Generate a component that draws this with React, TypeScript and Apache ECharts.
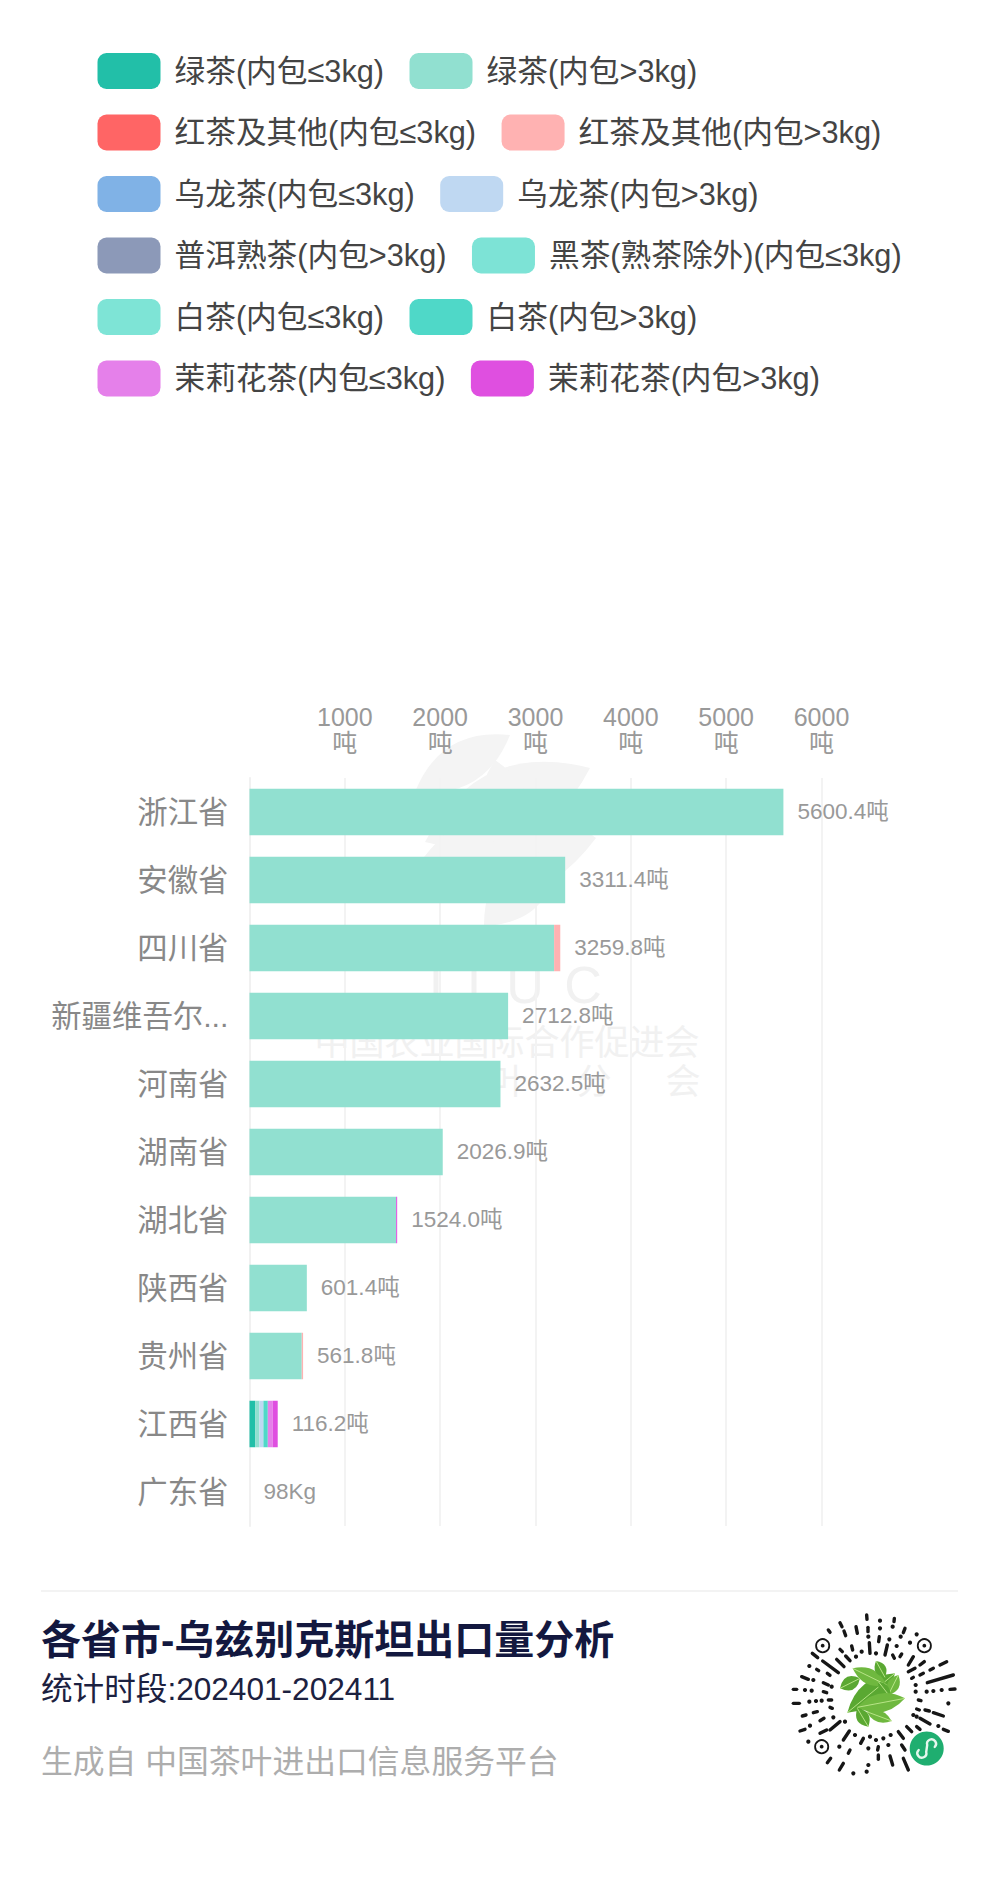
import React, { useEffect, useRef } from "react";
import * as echarts from "echarts";

const FONT = '"Liberation Sans", "Noto Sans CJK SC", sans-serif';

const provinces = ["浙江省", "安徽省", "四川省", "新疆维吾尔...", "河南省", "湖南省", "湖北省", "陕西省", "贵州省", "江西省", "广东省"];
const totalLabels = ["5600.4吨", "3311.4吨", "3259.8吨", "2712.8吨", "2632.5吨", "2026.9吨", "1524.0吨", "601.4吨", "561.8吨", "116.2吨", "98Kg"];
const tickValues = [1000, 2000, 3000, 4000, 5000, 6000];

const greenSmall = [0, 0, 0, 0, 0, 0, 0, 0, 0, 59, 0];
const greenLarge = [5600.4, 3311.4, 3195, 2712.8, 2632.5, 2026.9, 1538, 601.4, 548, 45, 0];
const blackSmall = [0, 0, 0, 0, 0, 0, 0, 0, 0, 0, 0];
const blackLarge = [0, 0, 64.8, 0, 0, 0, 0, 0, 14, 0, 0];
const oolongSmall = [0, 0, 0, 0, 0, 0, 0, 0, 0, 0, 0];
const oolongLarge = [0, 0, 0, 0, 0, 0, 0, 0, 0, 42, 0];
const puerLarge = [0, 0, 0, 0, 0, 0, 0, 0, 0, 0, 0];
const darkSmall = [0, 0, 0, 0, 0, 0, 0, 0, 0, 0, 0];
const whiteSmall = [0, 0, 0, 0, 0, 0, 0, 0, 0, 0, 0];
const whiteLarge = [0, 0, 0, 0, 0, 0, 0, 0, 0, 46, 0];
const jasmineSmall = [0, 0, 0, 0, 0, 0, 0, 0, 0, 52, 0];
const jasmineLarge = [0, 0, 0, 0, 0, 0, 11, 0, 0, 52, 0];
const labelAnchor = [0, 0, 0, 0, 0, 0, 0, 0, 0, 0, 0];

const seriesTable: [string, string, number[]][] = [
  ["绿茶(内包≤3kg)", "#22bfa8", greenSmall],
  ["绿茶(内包>3kg)", "#91e0d0", greenLarge],
  ["红茶及其他(内包≤3kg)", "#ff6565", blackSmall],
  ["红茶及其他(内包>3kg)", "#ffb2b2", blackLarge],
  ["乌龙茶(内包≤3kg)", "#80b2e6", oolongSmall],
  ["乌龙茶(内包>3kg)", "#bfd8f2", oolongLarge],
  ["普洱熟茶(内包>3kg)", "#8c99b8", puerLarge],
  ["黑茶(熟茶除外)(内包≤3kg)", "#7de3d6", darkSmall],
  ["白茶(内包≤3kg)", "#7ee4d6", whiteSmall],
  ["白茶(内包>3kg)", "#4fd8c8", whiteLarge],
  ["茉莉花茶(内包≤3kg)", "#e580ea", jasmineSmall],
  ["茉莉花茶(内包>3kg)", "#df4fe0", jasmineLarge],
];

// Mini-program code decoration, in a 3x local space
const qrDashes: number[][] = [
  [290,75,291,88],[373,85,372,95],[210,98,216,110],[175,120,180,127],[258,110,262,130],[294,112,294,125],[405,115,400,128],
  [222,123,227,137],[328,140,326,155],[298,158,300,190],[352,165,345,195],[210,178,217,185],[245,168,248,180],[368,195,373,205],
  [395,192,390,200],[430,200,415,225],[463,215,450,225],[530,215,510,225],[127,190,143,203],[158,213,205,248],[200,208,222,230],
  [227,198,240,212],[140,238,146,242],[172,250,180,256],[95,260,115,268],[160,278,175,285],[435,235,415,245],[460,250,450,255],
  [490,235,480,240],[550,255,472,278],[430,262,425,265],[70,298,80,298],[160,305,170,308],[540,298,555,297],[70,340,88,340],
  [175,330,185,330],[445,330,453,332],[440,357,448,360],[465,360,478,363],[490,368,520,378],[180,352,187,355],[130,368,142,365],
  [97,378,108,375],[450,385,480,402],[520,418,535,424],[90,423,105,418],[150,392,162,385],[210,395,180,420],[150,430,170,420],
  [238,423,220,450],[410,410,425,425],[440,410,450,418],[385,425,400,445],[280,445,272,460],[325,470,323,480],[395,465,405,480],
  [240,480,235,490],[360,498,368,525],[325,495,325,508],[400,505,415,540],[182,505,172,518],[220,520,208,540],
];
const qrDots: number[][] = [
  [330,92],[368,110],[330,115],[440,133],[295,140],[358,148],[392,140],[380,168],[420,158],[275,185],[318,190],[258,200],[118,228],
  [130,270],[185,290],[437,285],[437,305],[470,305],[490,303],[515,300],[105,300],[125,302],[118,335],[138,333],[155,332],[535,340],
  [430,375],[440,380],[505,408],[120,407],[190,382],[225,395],[362,435],[340,445],[318,450],[300,440],[255,435],[208,470],[115,455],
  [295,475],[355,465],[232,505],[295,525],[290,545],[250,550],
];
const qrFinders: number[][] = [[158,167],[463,167],[155,470]];
const qrLeaves: number[][] = [
  [232,368,375,250,66],[248,235,350,285,46],[318,213,345,262,34],[385,255,355,315,36],[325,275,360,320,28],
  [262,352,405,325,56],[262,355,295,410,38],[290,365,365,393,34],[210,295,270,265,42],
];
const markLeaves: number[][] = [
  [425,842,590,768,72],[415,792,510,735,42],[420,862,596,838,90],[484,926,556,850,50],[495,760,515,860,50],
];
const markTexts: [string, number, number, number][] = [
  ["I", 436, 985, 52],["I", 474, 985, 52],["U", 525, 985, 52],["C", 583, 985, 52],
  ["中国农业国际合作促进会", 507, 1042, 35],["叶", 510, 1081, 35],["分", 594, 1081, 35],["会", 683, 1081, 35],
];

echarts.graphic.registerShape("teaLeaf", echarts.graphic.extendPath("M0 0 Q50 -50 100 0 Q50 50 0 0Z", {}));
echarts.graphic.registerShape("miniS", echarts.graphic.extendPath("M-8 1.5 A4.5 4.5 0 1 0 -0.5 3.5 L0.5 -3.5 A4.5 4.5 0 1 1 8 -1.5", {}));

const qx = (v: number) => 770 + v / 3;
const qy = (v: number) => 1590 + v / 3;

function leaf(x1: number, y1: number, x2: number, y2: number, w: number, fill: string, z = 0) {
  const dx = x2 - x1, dy = y2 - y1;
  return {
    type: "teaLeaf", x: x1, y: y1, z, scaleX: Math.hypot(dx, dy) / 100, scaleY: w / 50,
    rotation: -Math.atan2(dy, dx), style: { fill },
  };
}

function buildGraphics() {
  const els: any[] = [];
  markLeaves.forEach(([a, b, c, d, w]) => els.push(leaf(a, b, c, d, w, "#f4f4f4", -2)));
  markTexts.forEach(([text, x, y, s]) =>
    els.push({ type: "text", x, y, z: -1, style: { text, fontSize: s, fontFamily: FONT, fill: "#f1f1f1", align: "center", verticalAlign: "middle" } })
  );
  els.push({ type: "line", shape: { x1: 41, y1: 1591, x2: 958, y2: 1591 }, style: { stroke: "#f3f3f3", lineWidth: 2 } });
  els.push({ type: "text", x: 41, y: 1640, style: { text: "各省市-乌兹别克斯坦出口量分析", fontSize: 40, fontWeight: "bold", fontFamily: FONT, fill: "#13183f", verticalAlign: "middle" } });
  els.push({ type: "text", x: 41, y: 1689, style: { text: "统计时段:202401-202411", fontSize: 31.6, fontFamily: FONT, fill: "#1c2140", verticalAlign: "middle" } });
  els.push({ type: "text", x: 41, y: 1762, style: { text: "生成自 中国茶叶进出口信息服务平台", fontSize: 31.8, fontFamily: FONT, fill: "#adadad", verticalAlign: "middle" } });

  qrDashes.forEach(([a, b, c, d]) =>
    els.push({ type: "line", shape: { x1: qx(a), y1: qy(b), x2: qx(c), y2: qy(d) }, style: { stroke: "#161616", lineWidth: 3.4, lineCap: "round" } })
  );
  qrDots.forEach(([a, b]) => els.push({ type: "circle", shape: { cx: qx(a), cy: qy(b), r: 2.1 }, style: { fill: "#161616" } }));
  qrFinders.forEach(([a, b]) => {
    els.push({ type: "circle", shape: { cx: qx(a), cy: qy(b), r: 6.6 }, style: { fill: "none", stroke: "#161616", lineWidth: 1.8 } });
    els.push({ type: "circle", shape: { cx: qx(a), cy: qy(b), r: 1.9 }, style: { fill: "#161616" } });
  });
  qrLeaves.forEach(([a, b, c, d, w], i) => {
    els.push(leaf(qx(a), qy(b), qx(c), qy(d), w / 3, i % 2 ? "#6fb83f" : "#5aa832"));
    els.push({ type: "line", shape: { x1: qx(a), y1: qy(b), x2: qx(c), y2: qy(d) }, style: { stroke: "#bfe98e", lineWidth: 0.9 } });
  });
  els.push({ type: "circle", shape: { cx: 926.7, cy: 1748.5, r: 17 }, style: { fill: "#1fae70" } });
  els.push({ type: "miniS", x: 926.7, y: 1748.5, style: { fill: "none", stroke: "#e6f7ee", lineWidth: 2.4, lineCap: "round" } });
  return els;
}

export default function App() {
  const ref = useRef<HTMLDivElement>(null);
  useEffect(() => {
    const chart = echarts.init(ref.current!, undefined, { renderer: "svg" });
    chart.setOption({
      animation: false,
      backgroundColor: "#fff",
      textStyle: { fontFamily: FONT },
      legend: {
        left: 97.5, top: 53, width: 830, padding: 0,
        itemWidth: 63, itemHeight: 36, itemGap: 25.5, icon: "roundRect",
        selectedMode: false,
        data: seriesTable.map((s) => s[0]),
        textStyle: { fontSize: 30.7, color: "#444", fontFamily: FONT, padding: [0, 0, 0, 9] },
      },
      grid: { left: 249.5, top: 778, width: 572, height: 748, containLabel: false },
      xAxis: {
        type: "value", position: "top", min: 0, max: 6000, interval: 1000,
        axisLine: { show: false }, axisTick: { show: false },
        splitLine: { lineStyle: { color: "#f3f3f3", width: 2 } },
        axisLabel: {
          margin: 21.6, fontSize: 25, lineHeight: 26, color: "#999", fontFamily: FONT, showMinLabel: false,
          formatter: (v: number) => (tickValues.includes(v) ? `${v}\n吨` : ""),
        },
      },
      yAxis: {
        type: "category", inverse: true, data: provinces,
        axisLine: { show: true, lineStyle: { color: "#f1f1f1", width: 2 } }, axisTick: { show: false },
        axisLabel: { margin: 21, fontSize: 30.4, color: "#888", fontFamily: FONT },
      },
      graphic: { elements: buildGraphics() },
      series: [
        ...seriesTable.map(([name, color, data]) => ({
          name, type: "bar", stack: "all", barWidth: 46.5, data, itemStyle: { color },
        })),
        {
          name: "合计", type: "bar", stack: "all", barWidth: 46.5, data: labelAnchor,
          itemStyle: { color: "transparent" },
          label: {
            show: true, position: "right", distance: 14, offset: [0, -1], fontSize: 22.5, color: "#999", fontFamily: FONT,
            formatter: (p: any) => totalLabels[p.dataIndex],
          },
        },
      ],
    });
    return () => chart.dispose();
  }, []);
  return <div ref={ref} style={{ position: "absolute", left: 0, top: 0, width: 1000, height: 1898, background: "#fff" }} />;
}
